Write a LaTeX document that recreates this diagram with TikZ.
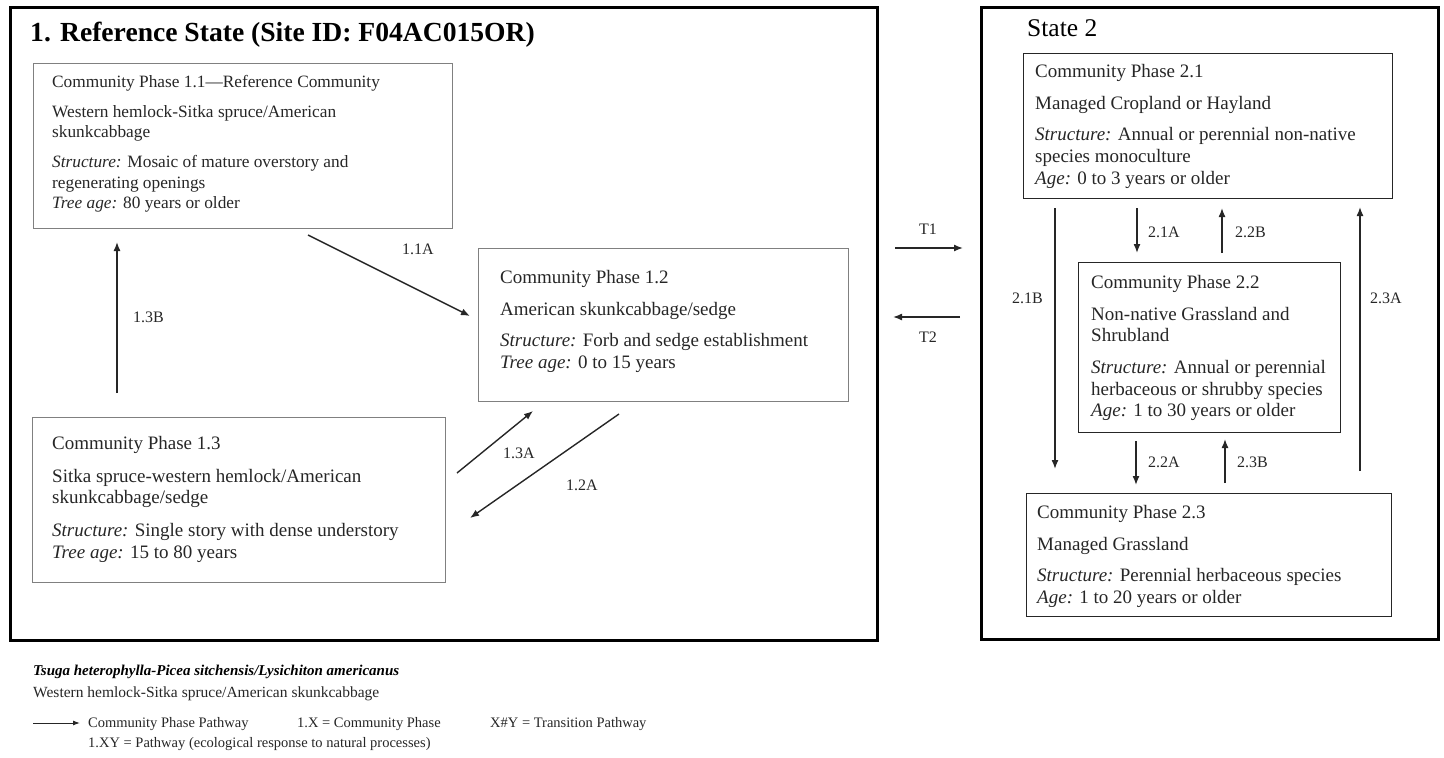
\documentclass[tikz,border=0pt]{standalone}
\usepackage{fontspec}
\setmainfont{Liberation Serif}
\usetikzlibrary{arrows.meta,positioning}

\tikzset{statebox/.style={draw=black,line width=3pt,anchor=north west,inner sep=0pt},
         phasebox/.style={draw=gray,line width=1.2pt,anchor=north west,inner sep=0pt},
         phasetext/.style={anchor=north west,align=left,inner sep=0pt,text=black!85},
         pathway/.style={line width=1.4pt,black!85,-{Latex[length=9pt,width=7pt]}},
         pathlabel/.style={anchor=base west,inner sep=0pt,text=black!85,font=\fontsize{16}{18}\selectfont},
         keytext/.style={anchor=base west,inner sep=0pt,text=black!85,font=\fontsize{14.5}{16}\selectfont}}

\newcommand{\smallphase}{\fontsize{17.3}{20.2}\selectfont}
\newcommand{\bigphase}{\fontsize{19}{21.7}\selectfont}

\begin{document}
\begin{tikzpicture}[x=1pt,y=-1pt]
                  \useasboundingbox (0,0) rectangle (1444,758);
                  % states
                  \node[statebox,minimum width=867pt,minimum height=633pt] (s1) at (9,6) {};
                  \node[statebox,minimum width=457pt,minimum height=632pt] (s2) at (980,6) {};
                  \node[anchor=base west,inner sep=0pt,font=\fontsize{27.6}{30}\selectfont\bfseries] (s1title) at (30,41) {1. Reference State (Site ID: F04AC015OR)};
                  \node[anchor=base west,inner sep=0pt,font=\fontsize{25.5}{28}\selectfont] (s2title) at (1027,36) {State 2};
                  % state 1 phases
                  \node[phasebox,minimum width=419pt,minimum height=165pt] (p11) at (33,63) {};
                  \node[phasetext,font=\smallphase] (p11t) at ([xshift=19pt,yshift=-12pt]p11.north west)
                      {Community Phase 1.1---Reference Community\\[10pt]
                       Western hemlock-Sitka spruce/American\\ skunkcabbage\\[10pt]
                       \textit{Structure:} Mosaic of mature overstory and\\ regenerating openings\\
                       \textit{Tree age:} 80 years or older};
                  \node[phasebox,minimum width=370pt,minimum height=153pt] (p12) at (478,248) {};
                  \node[phasetext,font=\bigphase] (p12t) at ([xshift=22pt,yshift=-22pt]p12.north west)
                      {Community Phase 1.2\\[10pt]
                       American skunkcabbage/sedge\\[10pt]
                       \textit{Structure:} Forb and sedge establishment\\
                       \textit{Tree age:} 0 to 15 years};
                  \node[phasebox,minimum width=413pt,minimum height=165pt] (p13) at (32,417) {};
                  \node[phasetext,font=\bigphase] (p13t) at ([xshift=20pt,yshift=-19pt]p13.north west)
                      {Community Phase 1.3\\[11pt]
                       Sitka spruce-western hemlock/American\\ skunkcabbage/sedge\\[11pt]
                       \textit{Structure:} Single story with dense understory\\
                       \textit{Tree age:} 15 to 80 years};
                  % state 2 phases
                  \node[phasebox,draw=black!85,minimum width=369pt,minimum height=145pt] (p21) at (1023,53) {};
                  \node[phasetext,font=\bigphase] (p21t) at ([xshift=12pt,yshift=-11pt]p21.north west)
                      {Community Phase 2.1\\[10pt]
                       Managed Cropland or Hayland\\[10pt]
                       \textit{Structure:} Annual or perennial non-native\\ species monoculture\\
                       \textit{Age:} 0 to 3 years or older};
                  \node[phasebox,draw=black!85,minimum width=262pt,minimum height=170pt] (p22) at (1078,262) {};
                  \node[phasetext,font=\bigphase] (p22t) at ([xshift=13pt,yshift=-13pt]p22.north west)
                      {Community Phase 2.2\\[10pt]
                       Non-native Grassland and\\ Shrubland\\[10pt]
                       \textit{Structure:} Annual or perennial\\ herbaceous or shrubby species\\
                       \textit{Age:} 1 to 30 years or older};
                  \node[phasebox,draw=black!85,minimum width=365pt,minimum height=123pt] (p23) at (1026,493) {};
                  \node[phasetext,font=\bigphase] (p23t) at ([xshift=11pt,yshift=-12pt]p23.north west)
                      {Community Phase 2.3\\[10pt]
                       Managed Grassland\\[10pt]
                       \textit{Structure:} Perennial herbaceous species\\
                       \textit{Age:} 1 to 20 years or older};
                  % pathway ends
                  \coordinate (a11s) at (308,235); \coordinate (a11e) at (470,316);
                  \coordinate (a13bs) at (117,393); \coordinate (a13be) at (117,242);
                  \coordinate (a13as) at (457,473); \coordinate (a13ae) at (533,411);
                  \coordinate (a12s) at (619,414); \coordinate (a12e) at (470,518);
                  \coordinate (t1s) at (895,248); \coordinate (t1e) at (963,248);
                  \coordinate (t2s) at (960,317); \coordinate (t2e) at (893,317);
                  \coordinate (a21as) at (1137,208); \coordinate (a21ae) at (1137,253);
                  \coordinate (a22bs) at (1222,253); \coordinate (a22be) at (1222,208);
                  \coordinate (a21bs) at (1055,208); \coordinate (a21be) at (1055,469);
                  \coordinate (a23as) at (1360,471); \coordinate (a23ae) at (1360,207);
                  \coordinate (a22as) at (1136,441); \coordinate (a22ae) at (1136,485);
                  \coordinate (a23bs) at (1225,483); \coordinate (a23be) at (1225,439);
                  \draw[pathway] (a11s) -- (a11e);
                  \draw[pathway] (a13bs) -- (a13be);
                  \draw[pathway] (a13as) -- (a13ae);
                  \draw[pathway] (a12s) -- (a12e);
                  \draw[pathway] (t1s) -- (t1e);
                  \draw[pathway] (t2s) -- (t2e);
                  \draw[pathway] (a21as) -- (a21ae);
                  \draw[pathway] (a22bs) -- (a22be);
                  \draw[pathway] (a21bs) -- (a21be);
                  \draw[pathway] (a23as) -- (a23ae);
                  \draw[pathway] (a22as) -- (a22ae);
                  \draw[pathway] (a23bs) -- (a23be);
                  % labels
                  \node[pathlabel] (l11a) at (402,254) {1.1A};
                  \node[pathlabel] (l13b) at (133,322) {1.3B};
                  \node[pathlabel] (l13a) at (503,458) {1.3A};
                  \node[pathlabel] (l12a) at (566,490) {1.2A};
                  \node[pathlabel] (lt1) at (919,234) {T1};
                  \node[pathlabel] (lt2) at (919,342) {T2};
                  \node[pathlabel] (l21a) at (1148,237) {2.1A};
                  \node[pathlabel] (l22b) at (1235,237) {2.2B};
                  \node[pathlabel] (l21b) at (1012,303) {2.1B};
                  \node[pathlabel] (l23a) at (1370,303) {2.3A};
                  \node[pathlabel] (l22a) at (1148,467) {2.2A};
                  \node[pathlabel] (l23b) at (1237,467) {2.3B};
                  % legend
                  \node[anchor=base west,inner sep=0pt,font=\fontsize{15}{17}\selectfont\bfseries\itshape] (latin) at (33,675) {Tsuga heterophylla-Picea sitchensis/Lysichiton americanus};
                  \node[anchor=base west,inner sep=0pt,text=black!85,font=\fontsize{15.5}{17}\selectfont] (common) at (33,697) {Western hemlock-Sitka spruce/American skunkcabbage};
                  \coordinate (keys) at (33,723); \coordinate (keye) at (80,723);
                  \draw[pathway,line width=1pt,-{Latex[length=7pt,width=5pt]}] (keys) -- (keye);
                  \node[keytext] (key1) at (88,727) {Community Phase Pathway};
                  \node[keytext] (key2) at (297,727) {1.X = Community Phase};
                  \node[keytext] (key3) at (490,727) {X\#Y = Transition Pathway};
                  \node[keytext] (key4) at (88,747) {1.XY = Pathway (ecological response to natural processes)};
              \end{tikzpicture}
\end{document}
